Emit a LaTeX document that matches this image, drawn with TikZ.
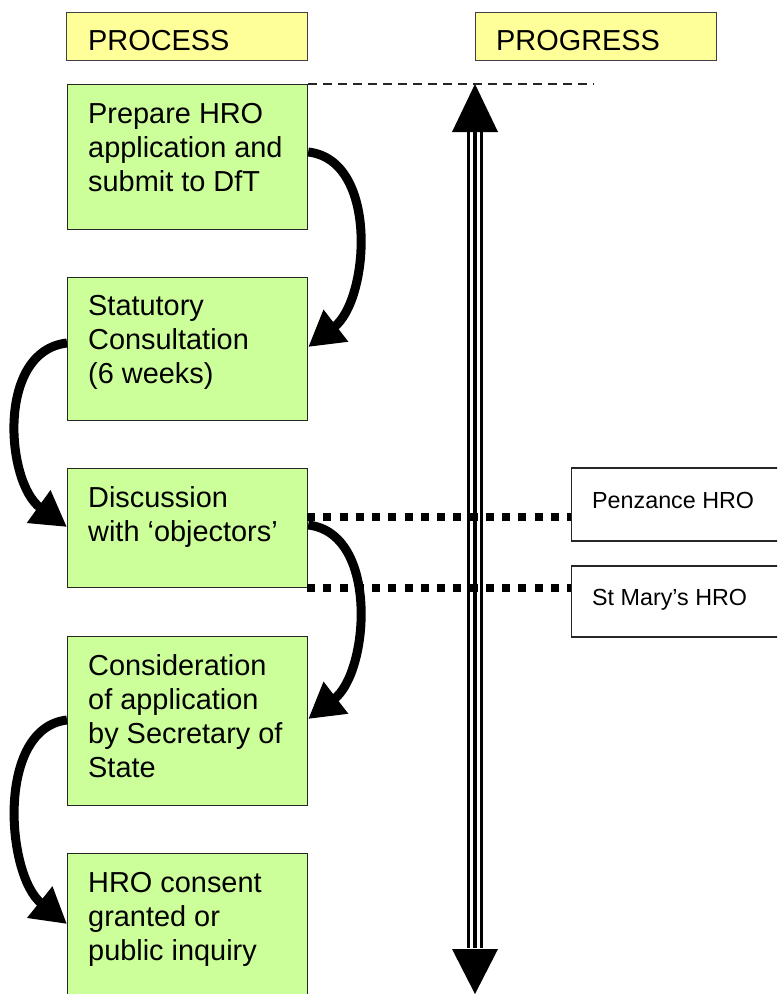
\documentclass[tikz,border=0pt]{standalone}
\usepackage{fontspec}
\setmainfont{Liberation Sans}
\usetikzlibrary{arrows.meta}
\definecolor{boxgreen}{HTML}{CCFF99}
\definecolor{boxyellow}{HTML}{FFFF99}
\begin{document}
\begin{tikzpicture}[x=1pt,y=-1pt,
  gbox/.style={draw=black!85, line width=1.2pt, fill=boxgreen, rectangle, inner sep=0pt, anchor=north west, minimum width=240pt},
  ybox/.style={draw=black!75, line width=1.2pt, fill=boxyellow, rectangle, inner sep=0pt, anchor=north west, minimum width=241pt, minimum height=48pt},
  wbox/.style={draw=black!85, line width=1.5pt, fill=white, rectangle, inner sep=0pt, anchor=north west, minimum width=230pt},
  btxt/.style={anchor=base west, inner sep=0pt, font=\fontsize{28.9}{34.3}\selectfont},
  stxt/.style={anchor=base west, inner sep=0pt, font=\fontsize{23.3}{27}\selectfont},
  flow/.style={line width=9pt, -{Triangle[length=35pt,width=38pt]}},
  dotline/.style={line width=8pt, dash pattern=on 8pt off 8.25pt},
  thindash/.style={line width=1.2pt, draw=black!85, dash pattern=on 8.5pt off 6.5pt},
]
\clip (0,0) rectangle (777,994);

% headers
\node[ybox] (hproc) at (66,12) {};
\node[ybox] (hprog) at (474.5,12) {};
\node[btxt] (tproc) at (88,50) {PROCESS};
\node[btxt] (tprog) at (496,50) {PROGRESS};

% process boxes
\node[gbox, minimum height=145pt] (b1) at (67,84) {};
\node[gbox, minimum height=143pt] (b2) at (67,277) {};
\node[gbox, minimum height=119pt] (b3) at (67,468) {};
\node[gbox, minimum height=169pt] (b4) at (67,636) {};
\node[gbox, minimum height=170pt] (b5) at (67,853) {};

\node[btxt] (t1) at (88,123) {\parbox[t]{215pt}{Prepare HRO\\application and\\submit to DfT}};
\node[btxt] (t2) at (88,315) {\parbox[t]{215pt}{Statutory\\Consultation\\(6 weeks)}};
\node[btxt] (t3) at (88,507) {\parbox[t]{215pt}{Discussion\\with ‘objectors’}};
\node[btxt] (t4) at (88,675) {\parbox[t]{215pt}{Consideration\\of application\\by Secretary of\\State}};
\node[btxt] (t5) at (88,892) {\parbox[t]{215pt}{HRO consent\\granted or\\public inquiry}};

% top dashed line
\coordinate (dend) at (594,84);
\draw[thindash] (b1.north east) -- (dend);

% progress double arrow
\coordinate (ptop) at (475,84);
\coordinate (pbot) at (475,994);
\draw[line width=16pt] ([yshift=-47pt]ptop) -- ([yshift=46pt]pbot);
\draw[white, line width=10pt] ([yshift=-47pt]ptop) -- ([yshift=46pt]pbot);
\draw[line width=4.6pt] ([yshift=-47pt]ptop) -- ([yshift=46pt]pbot);
\fill (ptop) -- ++(-23,48) -- ++(46,0) -- cycle;
\fill (pbot) -- ++(-23,-45) -- ++(46,0) -- cycle;

% white boxes
\node[wbox, minimum height=73pt] (pz) at (570.5,467) {};
\node[wbox, minimum height=71pt] (sm) at (570.5,565) {};
\node[stxt] (tpz) at (592,508) {Penzance HRO};
\node[stxt] (tsm) at (592,605) {St Mary’s HRO};

% dotted links
\coordinate (d1s) at (307,517);
\coordinate (d2s) at (307,588);
\draw[dotline] (d1s) -- (pz.west |- d1s);
\draw[dotline] (d2s) -- (sm.west |- d2s);

% curved flow arrows
\draw[flow] ([yshift=-68pt]b1.north east) .. controls +(71,8) and +(61,-47) .. ([yshift=-70pt]b2.north east);
\draw[flow] ([yshift=-66pt]b2.north west) .. controls +(-71,8) and +(-61,-44) .. ([yshift=-59pt]b3.north west);
\draw[flow] ([yshift=-57pt]b3.north east) .. controls +(71,8) and +(61,-47) .. ([yshift=-83pt]b4.north east);
\draw[flow] ([yshift=-84pt]b4.north west) .. controls +(-71,8) and +(-61,-49) .. ([yshift=-71pt]b5.north west);
\end{tikzpicture}
\end{document}
